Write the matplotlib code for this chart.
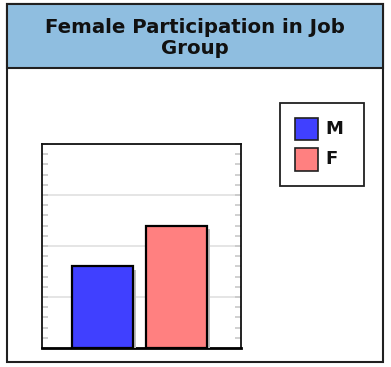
import matplotlib
matplotlib.use("Agg")
import matplotlib.pyplot as plt
import matplotlib.patheffects as pe
from matplotlib.patches import Rectangle
from matplotlib.ticker import MultipleLocator

title = "Female Participation in Job\nGroup"
groups = ["M", "F"]
values = [40, 60]
colors = ["#4040ff", "#ff8080"]

W, H = 391, 367
fig = plt.figure(figsize=(W / 100, H / 100), dpi=100)

def fx(px):
    return px / W

def fy(py):
    return 1 - py / H

# outer frame and title band
fig.patches.append(Rectangle((fx(7), fy(362)), fx(383) - fx(7), fy(4) - fy(362),
                             transform=fig.transFigure, facecolor="white",
                             edgecolor="#202020", linewidth=1.5, zorder=0))
fig.patches.append(Rectangle((fx(7), fy(68)), fx(383) - fx(7), fy(4) - fy(68),
                             transform=fig.transFigure, facecolor="#8fbee0",
                             edgecolor="#202020", linewidth=1.5, zorder=1))
fig.text(fx(195), fy(38), title, ha="center", va="center", fontsize=14.2,
         fontweight="bold", color="#111111", linespacing=1.15, zorder=2)

ax = fig.add_axes([fx(42), fy(348), fx(241) - fx(42), fy(144) - fy(348)])
ax.set_zorder(5)
ax.set_facecolor("white")
x = list(range(len(values)))
bars = ax.bar(x, values, width=0.82, color=colors, edgecolor="black",
              linewidth=1.6, zorder=3)
for b in bars:
    b.set_path_effects([pe.SimplePatchShadow(offset=(2.6, -2.6),
                                             shadow_rgbFace="#bdbdbd", alpha=1),
                        pe.Normal()])

ax.set_xlim(-0.818, 1.872)
ax.set_ylim(0, 100)
ax.yaxis.set_major_locator(MultipleLocator(25))
ax.yaxis.set_minor_locator(MultipleLocator(5))
ax.grid(axis="y", which="major", color="#e0e0e0", linewidth=1.2, zorder=0)
ax.tick_params(axis="y", which="both", direction="in", left=True, right=True,
               length=4, width=1.2, color="#c8c8c8", labelleft=False)
ax.tick_params(axis="x", bottom=False, labelbottom=False)
for side in ["left", "top", "right"]:
    ax.spines[side].set_linewidth(1.3)
    ax.spines[side].set_color("#111111")
ax.spines["bottom"].set_linewidth(2)

# legend box
fig.patches.append(Rectangle((fx(280), fy(186)), fx(364) - fx(280), fy(103) - fy(186),
                             transform=fig.transFigure, facecolor="white",
                             edgecolor="#202020", linewidth=1.3, zorder=1))
rows = [(118, 140), (148, 171)]
for (top, bot), name, c in zip(rows, groups, colors):
    fig.patches.append(Rectangle((fx(295), fy(bot)), fx(318) - fx(295), fy(top) - fy(bot),
                                 transform=fig.transFigure, facecolor=c,
                                 edgecolor="#202020", linewidth=1.2, zorder=2))
    fig.text(fx(325), fy((top + bot) / 2), name, ha="left", va="center",
             fontsize=13, fontweight="bold", color="#111111")

fig.savefig("out.png", dpi=100)
